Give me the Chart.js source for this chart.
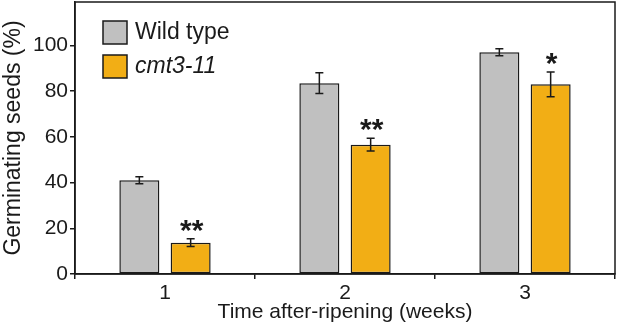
<!DOCTYPE html>
<html>
<head>
<meta charset="utf-8">
<script src="https://cdn.jsdelivr.net/npm/chart.js@4"></script>
<style>
  html, body { margin: 0; padding: 0; background: #fff; }
  #wrap { width: 617px; height: 329px; }
</style>
</head>
<body>
<div id="wrap"><canvas id="chart"></canvas></div>
<script>
// data
const weeks = ['1', '2', '3'];
const wildType = [41, 83.5, 97];
const wildTypeErr = [1.5, 4.5, 1.5];
const cmt3 = [13.7, 56.6, 83];
const cmt3Err = [1.7, 2.8, 5.4];
const cmt3Stars = ['**', '**', '*'];
const yTicks = [0, 20, 40, 60, 80, 100];

const GREY = '#c0c0c0';
const ORANGE = '#f2ae15';
const INK = '#1a1a1a';
const FONT = '"Liberation Sans", Arial, sans-serif';

const errors = [wildTypeErr, cmt3Err];

// error bars + stars
const errorBars = {
    id: 'errorBars',
    afterDatasetsDraw(chart) {
        const ctx = chart.ctx;
        const y = chart.scales.y;
        ctx.save();
        ctx.strokeStyle = INK;
        ctx.lineWidth = 1.5;
        chart.data.datasets.forEach((ds, di) => {
            const meta = chart.getDatasetMeta(di);
            meta.data.forEach((bar, i) => {
                const v = ds.data[i], e = errors[di][i];
                const yt = y.getPixelForValue(v + e);
                const yb = y.getPixelForValue(v - e);
                ctx.beginPath();
                ctx.moveTo(bar.x, yt); ctx.lineTo(bar.x, yb);
                ctx.moveTo(bar.x - 4, yt); ctx.lineTo(bar.x + 4, yt);
                ctx.moveTo(bar.x - 4, yb); ctx.lineTo(bar.x + 4, yb);
                ctx.stroke();
                if (di === 1) {
                    ctx.fillStyle = INK;
                    ctx.font = 'bold 30px ' + FONT;
                    ctx.textAlign = 'center';
                    ctx.textBaseline = 'alphabetic';
                    ctx.fillText(cmt3Stars[i], bar.x + 1, yt + 1);
                }
            });
        });
        ctx.restore();
    }
};

// frame round the plot + legend inside
const frame = {
    id: 'frame',
    afterDraw(chart) {
        const ctx = chart.ctx;
        const a = chart.chartArea;
        ctx.save();
        ctx.strokeStyle = INK;
        ctx.lineWidth = 1.5;
        ctx.strokeRect(a.left, a.top, a.right - a.left, a.bottom - a.top);

        const items = [
            { label: 'Wild type', color: GREY, italic: false, y: 21 },
            { label: 'cmt3-11', color: ORANGE, italic: true, y: 55 }
        ];
        items.forEach(it => {
            ctx.fillStyle = it.color;
            ctx.fillRect(103, it.y, 24, 23);
            ctx.strokeRect(103, it.y, 24, 23);
            ctx.fillStyle = INK;
            ctx.font = (it.italic ? 'italic ' : '') + '23px ' + FONT;
            ctx.textAlign = 'left';
            ctx.textBaseline = 'middle';
            ctx.fillText(it.label, 135, it.y + 12);
        });
        ctx.restore();
    }
};

new Chart(document.getElementById('chart'), {
    type: 'bar',
    data: {
        labels: weeks,
        datasets: [
            { label: 'Wild type', data: wildType, backgroundColor: GREY,
              borderColor: INK, borderWidth: 1.5, borderSkipped: false },
            { label: 'cmt3-11', data: cmt3, backgroundColor: ORANGE,
              borderColor: INK, borderWidth: 1.5, borderSkipped: false }
        ]
    },
    options: {
        responsive: true,
        maintainAspectRatio: false,
        animation: false,
        layout: { padding: { top: 2, right: 2, left: 0, bottom: 0 } },
        datasets: { bar: { categoryPercentage: 0.57, barPercentage: 0.78 } },
        plugins: { legend: { display: false }, tooltip: { enabled: false } },
        scales: {
            x: {
                offset: true,
                grid: { offset: true, drawOnChartArea: false, drawTicks: true,
                        tickLength: 5, color: INK, lineWidth: 1.5 },
                border: { color: INK, width: 1.5 },
                ticks: { color: INK, font: { family: FONT, size: 21 }, padding: 2 },
                title: { display: true, text: 'Time after-ripening (weeks)', color: INK,
                         font: { family: FONT, size: 21 }, padding: { top: 0 } },
                afterFit(s) { s.height = 55; s.paddingLeft = 0; s.paddingRight = 0; }
            },
            y: {
                min: 0, max: 119,
                afterBuildTicks(s) { s.ticks = yTicks.map(v => ({ value: v })); },
                grid: { drawOnChartArea: false, drawTicks: true, tickLength: 5,
                        color: INK, lineWidth: 1.5 },
                border: { color: INK, width: 1.5 },
                ticks: { color: INK, font: { family: FONT, size: 21 }, padding: 2 },
                title: { display: true, text: 'Germinating seeds (%)', color: INK,
                         font: { family: FONT, size: 23 }, padding: { top: 0, bottom: 0 } },
                afterFit(s) { s.width = 75; s.paddingTop = 0; s.paddingBottom = 0; }
            }
        }
    },
    plugins: [errorBars, frame]
});
</script>
</body>
</html>
